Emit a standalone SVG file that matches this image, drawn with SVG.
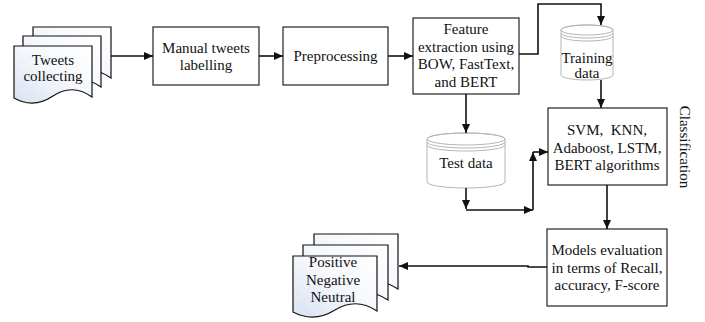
<svg xmlns="http://www.w3.org/2000/svg" width="705" height="322" viewBox="0 0 705 322">
<style>
text{font-family:"Liberation Serif","Times New Roman",serif;font-size:15px;fill:#111;text-anchor:middle}
.box{fill:#fff;stroke:#222;stroke-width:1.2}
.doc{fill:url(#dg);stroke:#111;stroke-width:1.2}
.cyl{fill:#fff;stroke:#b5b5b5;stroke-width:1}
.cl{fill:none;stroke:#b5b5b5;stroke-width:1}
.con{fill:none;stroke:#111;stroke-width:1.6;marker-end:url(#ah)}
</style>
<defs>
<linearGradient id="dg" x1="1" y1="0" x2="0" y2="1">
<stop offset="0" stop-color="#ffffff"/>
<stop offset="0.45" stop-color="#f6f8fc"/>
<stop offset="1" stop-color="#d9e1f1"/>
</linearGradient>
<marker id="ah" markerUnits="userSpaceOnUse" markerWidth="10" markerHeight="8" refX="9" refY="4" orient="auto">
<path d="M0,0 L9,4 L0,8 Z" fill="#111"/>
</marker>
</defs>

<g id="tweets-collecting">
<path class="doc" d="M33,27 H111 V78 Q91.5,64 72,77 T33,79 Z"/>
<path class="doc" d="M23,36 H101 V87 Q81.5,73 62,86 T23,88 Z"/>
<path class="doc" d="M14,46 H92 V97 Q72.5,83 53,96 T14,98 Z"/>
<text x="53" y="65">Tweets</text>
<text x="53" y="81">collecting</text>
</g>

<g id="manual-labelling">
<rect class="box" x="153" y="27" width="106" height="58"/>
<text x="206" y="53">Manual tweets</text>
<text x="206" y="70">labelling</text>
</g>

<g id="preprocessing">
<rect class="box" x="283" y="27" width="105" height="58"/>
<text x="335.5" y="61">Preprocessing</text>
</g>

<g id="feature-extraction">
<rect class="box" x="413" y="18" width="106" height="76"/>
<text x="466" y="34">Feature</text>
<text x="466" y="52">extraction using</text>
<text x="466" y="69">BOW, FastText,</text>
<text x="466" y="87">and BERT</text>
</g>

<g id="training-data">
<path class="cyl" d="M561,30 V75 A26,5 0 0 0 613,75 V30 A26,5 0 0 0 561,30 Z"/>
<ellipse class="cl" cx="587" cy="30" rx="26" ry="5"/>
<path class="cl" d="M561,33 A26,5 0 0 0 613,33"/>
<path class="cl" d="M561,36 A26,5 0 0 0 613,36"/>
<text x="587" y="63">Training</text>
<text x="587" y="78">data</text>
</g>

<g id="test-data">
<path class="cyl" d="M427,139 V182 A39,6 0 0 0 505,182 V139 A39,6 0 0 0 427,139 Z"/>
<ellipse class="cl" cx="466" cy="139" rx="39" ry="6"/>
<path class="cl" d="M427,142 A39,6 0 0 0 505,142"/>
<path class="cl" d="M427,145 A39,6 0 0 0 505,145"/>
<text x="466" y="168">Test data</text>
</g>

<g id="classifiers">
<rect class="box" x="548" y="108" width="119" height="77"/>
<text x="607" y="135" xml:space="preserve">SVM,  KNN,</text>
<text x="607" y="153">Adaboost, LSTM,</text>
<text x="607" y="170">BERT algorithms</text>
</g>

<g id="classification-label">
<text transform="translate(680,147) rotate(90)">Classification</text>
</g>

<g id="models-evaluation">
<rect class="box" x="547" y="229" width="120" height="77"/>
<text x="607" y="255">Models evaluation</text>
<text x="607" y="273">in terms of Recall,</text>
<text x="607" y="290">accuracy, F-score</text>
</g>

<g id="output-classes">
<path class="doc" d="M314,234 H398 V289 Q377,275 356,288 T314,290 Z"/>
<path class="doc" d="M303,245 H388 V300 Q366.75,286 345.5,299 T303,301 Z"/>
<path class="doc" d="M293,256 H377 V311 Q356,297 335,310 T293,312 Z"/>
<text x="333" y="267">Positive</text>
<text x="333" y="285">Negative</text>
<text x="333" y="302">Neutral</text>
</g>

<g id="connectors">
<path class="con" d="M111,56 H153"/>
<path class="con" d="M259,56 H283"/>
<path class="con" d="M388,56 H413"/>
<path class="con" d="M519,54 H538 V4 H601 V25"/>
<path class="con" d="M466,94 V133"/>
<path class="con" d="M601,80 V108"/>
<path class="con" d="M466,188 V209"/>
<path class="con" d="M466,210 H533"/>
<path class="con" d="M533,210 V152"/>
<path class="con" d="M533,152 H548"/>
<path class="con" d="M607,185 V229"/>
<path class="con" d="M547,267 H528 V266 H399"/>
</g>
</svg>
